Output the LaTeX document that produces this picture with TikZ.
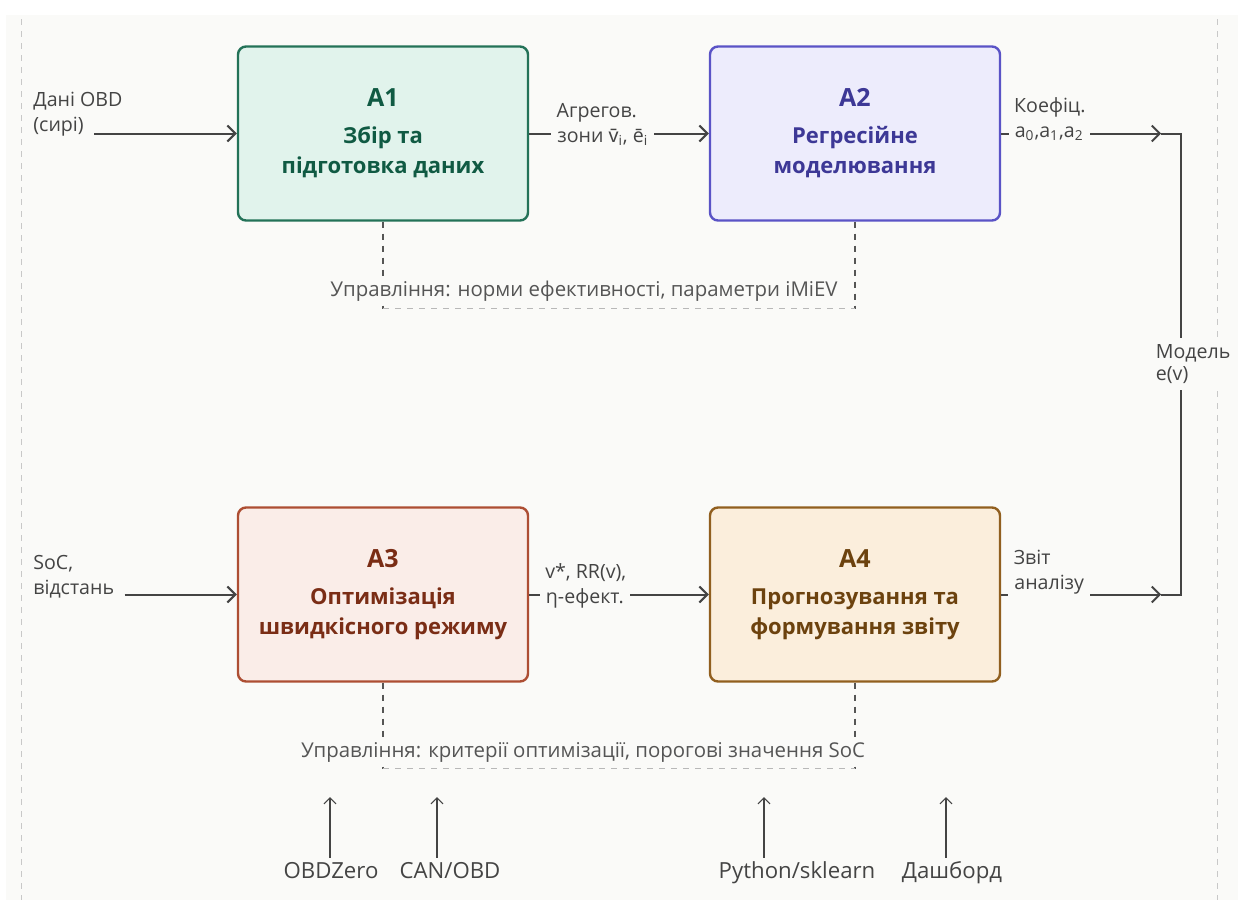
\documentclass[tikz,border=0pt]{standalone}
\usepackage{fontspec}
\setmainfont{Open Sans}
\newfontfamily\notosans{Noto Sans}
\usetikzlibrary{arrows.meta,positioning,calc}
\definecolor{pagebg}{HTML}{FAFAF8}
\definecolor{inkgray}{HTML}{444444}
\definecolor{ctlgray}{HTML}{555555}
\definecolor{framegray}{HTML}{C8C8C8}
\definecolor{greenfill}{HTML}{E1F3EC}
\definecolor{greendraw}{HTML}{237258}
\definecolor{greentext}{HTML}{105A43}
\definecolor{violetfill}{HTML}{EDECFC}
\definecolor{violetdraw}{HTML}{5A53C6}
\definecolor{violettext}{HTML}{3D3896}
\definecolor{rustfill}{HTML}{FAEDE8}
\definecolor{rustdraw}{HTML}{AD4E33}
\definecolor{rusttext}{HTML}{7A2D15}
\definecolor{ochrefill}{HTML}{FBEEDC}
\definecolor{ochredraw}{HTML}{915F1F}
\definecolor{ochretext}{HTML}{6C420E}
\newcommand{\boxhead}[2]{{\fontsize{12.5}{14}\selectfont #1}\\[3.5pt]#2}

\begin{document}
\begin{tikzpicture}[x=0.5pt,y=-0.5pt,
    func/.style={draw,line width=1.2pt,rounded corners=4pt,minimum width=145pt,minimum height=87pt,align=center,font=\fontsize{11}{15}\selectfont\bfseries},
    elbl/.style={fill=pagebg,inner xsep=3pt,inner ysep=1pt,text=inkgray,font=\fontsize{9.8}{11}\selectfont},
    etop/.style={inner xsep=3pt,inner ysep=1pt,text=inkgray,font=\fontsize{9.8}{11}\selectfont,anchor=base west},
    ctl/.style={fill=pagebg,inner xsep=3pt,inner ysep=2pt,text=ctlgray,font=\fontsize{10.2}{11}\selectfont},
    mlbl/.style={inner sep=2pt,text height=8pt,text depth=2pt,anchor=base,text=inkgray,font=\fontsize{11.1}{12}\selectfont},
    arr/.style={-{Straight Barb[length=4pt,width=8pt]},line width=1pt,inkgray},
    ln/.style={line width=1pt,inkgray},
    mech/.style={-{Straight Barb[length=3pt,width=6pt]},line width=0.6pt,inkgray},
    ctlv/.style={dash pattern=on 3pt off 3pt,line width=0.6pt,ctlgray},
    ctlh/.style={dash pattern=on 3pt off 3pt,line width=0.6pt,black!28},
    frame/.style={dash pattern=on 3pt off 3pt,line width=0.5pt,framegray}
    ]
    \useasboundingbox (0,0) rectangle (1238,900);
    \fill[pagebg] (6,15) rectangle (1238,900);
    \draw[frame] (21,19) -- (21,900);
    \draw[frame] (1217,19) -- (1217,900);

    \node[func,fill=greenfill,draw=greendraw,text=greentext] (a1) at (383,133.5) {\boxhead{A1}{Збір та\\підготовка даних}};
    \node[func,fill=violetfill,draw=violetdraw,text=violettext] (a2) [right=89.8pt of a1] {\boxhead{A2}{Регресійне\\моделювання}};
    \node[func,fill=rustfill,draw=rustdraw,text=rusttext] (a3) [below=142.3pt of a1] {\boxhead{A3}{Оптимізація\\швидкісного режиму}};
    \node[func,fill=ochrefill,draw=ochredraw,text=ochretext] (a4) [right=89.8pt of a3] {\boxhead{A4}{Прогнозування та\\формування звіту}};

    \node[etop] (in1) at (27,131) {(сирі)};
    \node[etop] at ($(in1.base west)+(0,-25)$) {Дані OBD};
    \draw[arr] ([xshift=2pt]in1.east |- a1.west) -- (a1.west);
    \node[etop] (in3) at (27,594) {відстань};
    \node[etop] at ($(in3.base west)+(0,-25)$) {SoC,};
    \draw[arr] ([xshift=2pt]in3.east |- a3.west) -- (a3.west);

    \draw[arr] (a1) -- node[elbl,pos=0.41,yshift=-2pt] (l12) {зони {\notosans\={v}}\textsubscript{i}, ē\textsubscript{i}} (a2);
    \node[etop] at ($(l12.base west)+(0,-25)$) {Агрегов.};
    \draw[arr] (a3) -- node[elbl,pos=0.31,yshift=-2pt] (l34) {η-ефект.} (a4);
    \node[etop] at ($(l34.base west)+(0,-25)$) {v*, RR(v),};

    \coordinate[right=80pt of a2.east] (t2);
    \coordinate[right=90pt of a2.east] (k2);
    \coordinate[right=80pt of a4.east] (t4);
    \coordinate[right=90pt of a4.east] (k4);
    \draw[arr] (a2.east) -- node[elbl,pos=0.3] (l2k) {a\textsubscript{0},a\textsubscript{1},a\textsubscript{2}} (t2);
    \node[etop] at ($(l2k.base west)+(0,-25)$) {Коефіц.};
    \draw[arr] (a4.east) -- node[elbl,pos=0.3,yshift=5pt] (l4k) {аналізу} (t4);
    \node[etop] at ($(l4k.base west)+(0,-25)$) {Звіт};
    \draw[ln] (t2) -- (k2) -- node[elbl,align=left,xshift=6pt,inner ysep=3pt] (mdl) {Модель\\e(v)} (k4) -- (t4);

    \draw[ctlv] (a1.south) -- ++(0,87) coordinate (h1);
    \draw[ctlv] (a2.south) -- ++(0,87) coordinate (h2);
    \draw[ctlh] (h1) -- (h2);
    \node[ctl] (c12) at (584,291) {Управління: норми ефективності, параметри iMiEV};
    \draw[ctlv] (a3.south) -- ++(0,86) coordinate (h3);
    \draw[ctlv] (a4.south) -- ++(0,86) coordinate (h4);
    \draw[ctlh] (h3) -- (h4);
    \node[ctl] (c34) at (583,752) {Управління: критерії оптимізації, порогові значення SoC};

    \node[mlbl] (m1) at (331,878) {OBDZero};
    \node[mlbl] (m2) at (450,878) {CAN/OBD};
    \node[mlbl] (m3) at (797,878) {Python/sklearn};
    \node[mlbl] (m4) at (952,878) {Дашборд};
    \coordinate (u1) at (330,797);
    \coordinate (u2) at (437,797);
    \coordinate (u3) at (764,797);
    \coordinate (u4) at (946,797);
    \draw[mech] (u1 |- m1.north) -- (u1);
    \draw[mech] (u2 |- m2.north) -- (u2);
    \draw[mech] (u3 |- m3.north) -- (u3);
    \draw[mech] (u4 |- m4.north) -- (u4);
\end{tikzpicture}
\end{document}
